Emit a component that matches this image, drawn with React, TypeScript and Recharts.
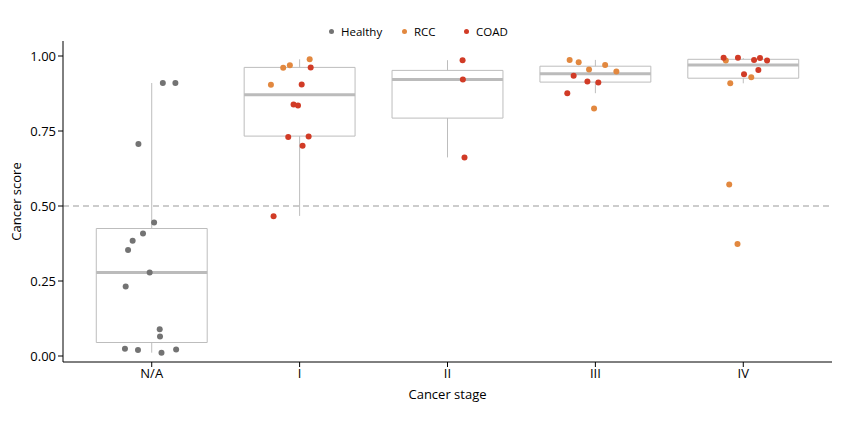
import {
  ComposedChart,
  Scatter,
  XAxis,
  YAxis,
  ReferenceArea,
  ReferenceLine,
  Legend,
} from "recharts";

const stages = ["N/A", "I", "II", "III", "IV"];

// box summary per stage
const whiskerLow = [0.011, 0.467, 0.662, 0.876, 0.909];
const boxQ1 = [0.045, 0.733, 0.793, 0.913, 0.926];
const boxMedian = [0.278, 0.871, 0.922, 0.941, 0.97];
const boxQ3 = [0.425, 0.962, 0.952, 0.966, 0.989];
const whiskerHigh = [0.91, 0.989, 0.986, 0.987, 0.993];

// Healthy samples (all N/A stage)
const healthyStage = [0, 0, 0, 0, 0, 0, 0, 0, 0, 0, 0, 0, 0, 0, 0];
const healthyJitter = [0.075, 0.16, -0.09, 0.016, -0.059, -0.129, -0.16, -0.014, -0.176, 0.054, 0.056, -0.181, -0.093, 0.066, 0.165];
const healthyScore = [0.91, 0.91, 0.707, 0.445, 0.408, 0.384, 0.353, 0.278, 0.232, 0.089, 0.065, 0.024, 0.02, 0.011, 0.022];

// RCC samples
const rccStage = [1, 1, 1, 1, 3, 3, 3, 3, 3, 3, 4, 4, 4, 4, 4];
const rccJitter = [0.068, -0.066, -0.111, -0.194, -0.174, -0.113, -0.043, -0.009, 0.066, 0.142, -0.118, 0.054, -0.088, -0.095, -0.039];
const rccScore = [0.989, 0.969, 0.961, 0.904, 0.987, 0.979, 0.955, 0.825, 0.97, 0.948, 0.985, 0.929, 0.909, 0.572, 0.373];

// COAD samples
const coadStage = [1, 1, 1, 1, 1, 1, 1, 1, 2, 2, 2, 3, 3, 3, 3, 4, 4, 4, 4, 4, 4, 4];
const coadJitter = [0.075, 0.014, -0.041, -0.011, -0.077, 0.061, 0.02, -0.176, 0.102, 0.104, 0.115, -0.147, -0.054, 0.02, -0.19, -0.133, -0.036, 0.073, 0.113, 0.161, 0.102, 0.005];
const coadScore = [0.962, 0.905, 0.838, 0.835, 0.73, 0.732, 0.701, 0.466, 0.986, 0.922, 0.662, 0.934, 0.915, 0.912, 0.876, 0.994, 0.994, 0.987, 0.993, 0.985, 0.953, 0.939];

const yTicks = [0, 0.25, 0.5, 0.75, 1];

const GROUPS = [
  { name: "Healthy", color: "#737373", stage: healthyStage, jitter: healthyJitter, score: healthyScore },
  { name: "RCC", color: "#e2883f", stage: rccStage, jitter: rccJitter, score: rccScore },
  { name: "COAD", color: "#d13b26", stage: coadStage, jitter: coadJitter, score: coadScore },
];

const BOX_HALF = 0.375;
const BOX_STROKE = "#bdbdbd";
const FONT = "'Open Sans', sans-serif";
const TEXT = "#000";

function toPoints(stage: number[], jitter: number[], score: number[]) {
  return score.map((s, i) => ({ x: stage[i] + jitter[i], y: s }));
}

function Dot(color: string) {
  return (props: any) => (
    <circle cx={props.cx} cy={props.cy} r={3} fill={color} />
  );
}

function LegendContent() {
  const widths = [73, 62, 60];
  return (
    <div style={{ display: "flex", paddingLeft: 329, fontFamily: FONT, fontSize: 11.5, color: TEXT }}>
      {GROUPS.map((g, i) => (
        <div key={g.name} style={{ width: widths[i], display: "flex", alignItems: "center" }}>
          <span
            style={{
              width: 5,
              height: 5,
              borderRadius: "50%",
              background: g.color,
              marginRight: 7,
              display: "inline-block",
            }}
          />
          <span>{g.name}</span>
        </div>
      ))}
    </div>
  );
}

export default function App() {
  return (
    <div style={{ position: "absolute", left: 0, top: 0, background: "#fff" }}>
      <ComposedChart
        width={861}
        height={441}
        margin={{ top: 41, right: 29, bottom: 39, left: 0 }}
      >
        <XAxis
          type="number"
          dataKey="x"
          domain={[-0.6, 4.6]}
          ticks={[0, 1, 2, 3, 4]}
          tickFormatter={(v: number) => stages[v] ?? ""}
          allowDataOverflow
          height={40}
          stroke="#000"
          tickSize={5}
          tick={{ fill: TEXT, fontSize: 13, fontFamily: FONT }}
          label={{
            value: "Cancer stage",
            position: "insideBottom",
            offset: 3,
            style: { fill: TEXT, fontSize: 13, fontFamily: FONT },
          }}
        />
        <YAxis
          type="number"
          dataKey="y"
          domain={[-0.02, 1.05]}
          ticks={yTicks}
          tickFormatter={(v: number) => v.toFixed(2)}
          allowDataOverflow
          width={63}
          stroke="#000"
          tickSize={5}
          tick={{ fill: TEXT, fontSize: 13, fontFamily: FONT }}
          label={{
            value: "Cancer score",
            angle: -90,
            position: "insideLeft",
            offset: 16,
            style: { fill: TEXT, fontSize: 13, fontFamily: FONT, textAnchor: "middle" },
          }}
        />
        <Legend
          layout="horizontal"
          verticalAlign="middle"
          wrapperStyle={{ top: 24, left: 0, width: 861 }}
          content={<LegendContent />}
        />

        <ReferenceLine y={0.5} stroke="#999" strokeDasharray="6 4" strokeWidth={1} />

        {stages.map((s, i) => (
          <ReferenceLine
            key={`wl-${s}`}
            segment={[{ x: i, y: whiskerLow[i] }, { x: i, y: boxQ1[i] }]}
            stroke={BOX_STROKE}
            strokeWidth={1}
          />
        ))}
        {stages.map((s, i) => (
          <ReferenceLine
            key={`wh-${s}`}
            segment={[{ x: i, y: boxQ3[i] }, { x: i, y: whiskerHigh[i] }]}
            stroke={BOX_STROKE}
            strokeWidth={1}
          />
        ))}
        {stages.map((s, i) => (
          <ReferenceArea
            key={`box-${s}`}
            x1={i - BOX_HALF}
            x2={i + BOX_HALF}
            y1={boxQ1[i]}
            y2={boxQ3[i]}
            fill="none"
            fillOpacity={0}
            stroke={BOX_STROKE}
            strokeWidth={1}
          />
        ))}
        {stages.map((s, i) => (
          <ReferenceLine
            key={`med-${s}`}
            segment={[{ x: i - BOX_HALF, y: boxMedian[i] }, { x: i + BOX_HALF, y: boxMedian[i] }]}
            stroke="#bbbbbb"
            strokeWidth={3}
          />
        ))}

        {GROUPS.map((g) => (
          <Scatter
            key={g.name}
            name={g.name}
            data={toPoints(g.stage, g.jitter, g.score)}
            fill={g.color}
            shape={Dot(g.color)}
            isAnimationActive={false}
          />
        ))}
      </ComposedChart>
    </div>
  );
}
